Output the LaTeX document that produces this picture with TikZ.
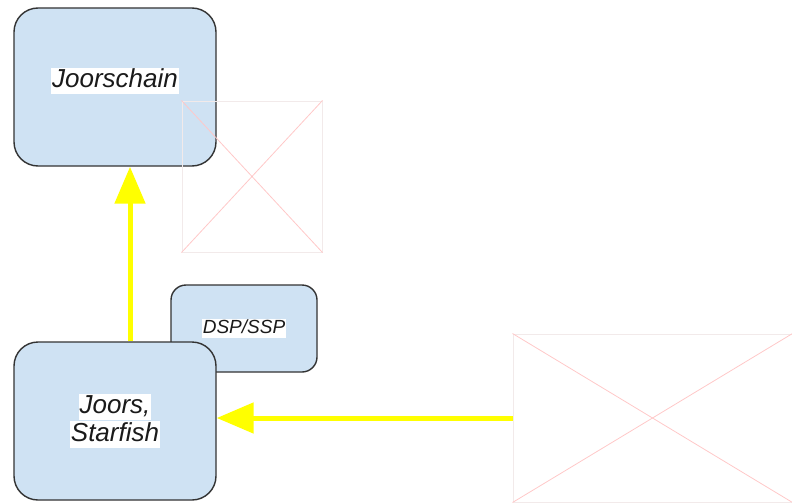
\documentclass[tikz,border=0pt]{standalone}
\usepackage{fontspec}
\setmainfont{Liberation Sans}
\usetikzlibrary{arrows.meta}
\definecolor{boxfill}{HTML}{CFE2F3}
\definecolor{boxline}{HTML}{333333}
\definecolor{txt}{HTML}{1A1A1A}
\definecolor{phline}{HTML}{F2EAEA}
\definecolor{phcross}{HTML}{FFC8C8}
\definecolor{flow}{HTML}{FFFF00}
% white highlight behind a line of text
\newcommand{\hlbox}[1]{{\setlength{\fboxsep}{1pt}\colorbox{white}{\vphantom{Jg}#1}}}

\begin{document}
\begin{tikzpicture}[x=1pt,y=-1pt,
  block/.style={draw=boxline, line width=1.4pt, fill=boxfill, inner sep=0pt},
  bigblock/.style={block, rounded corners=24pt, minimum width=202pt, minimum height=158pt},
  smallblock/.style={block, rounded corners=15pt, minimum width=146pt, minimum height=87pt},
  boxtext/.style={font=\itshape, text=txt, inner sep=0pt, align=center},
  placeholder/.style={draw=phline, line width=1pt, inner sep=0pt},
  flowarrow/.style={draw=flow, line width=5pt, -{Triangle[width=30pt,length=37pt]}}
]
\useasboundingbox (0,0) rectangle (792,503);

% upper block
\node[bigblock] (chain) at (115,87) {};
\node[boxtext, font=\itshape\fontsize{26}{30}\selectfont] (chaintext) at ([yshift=6pt]chain.center) {\hlbox{Joorschain}};

% missing image beside the upper block
\node[placeholder, minimum width=140pt, minimum height=151pt] (img1) at (252,176.5) {};
\draw[phcross, line width=0.8pt] (img1.north west) -- (img1.south east)
                                 (img1.north east) -- (img1.south west);

% small block behind the lower block
\node[smallblock] (dsp) at (244,328.5) {};
\node[boxtext, font=\itshape\fontsize{19}{22}\selectfont] (dsptext) at (dsp.center) {\hlbox{DSP/SSP}};

% lower block
\node[bigblock] (joors) at (115,421) {};
\node[boxtext, font=\itshape\fontsize{26}{30}\selectfont] (joorstext) at (joors.center)
  {\hlbox{Joors,}\\[-2pt]\hlbox{Starfish}};

% missing image on the right
\node[placeholder, minimum width=279pt, minimum height=168pt] (img2) at (652.5,418) {};
\draw[phcross, line width=0.8pt] (img2.north west) -- (img2.south east)
                                 (img2.north east) -- (img2.south west);

% flows
\draw[flowarrow] ([xshift=15pt]joors.north) -- ([xshift=15pt]chain.south);
\draw[flowarrow] (img2.west) -- (joors.east |- img2.west);
\end{tikzpicture}
\end{document}
